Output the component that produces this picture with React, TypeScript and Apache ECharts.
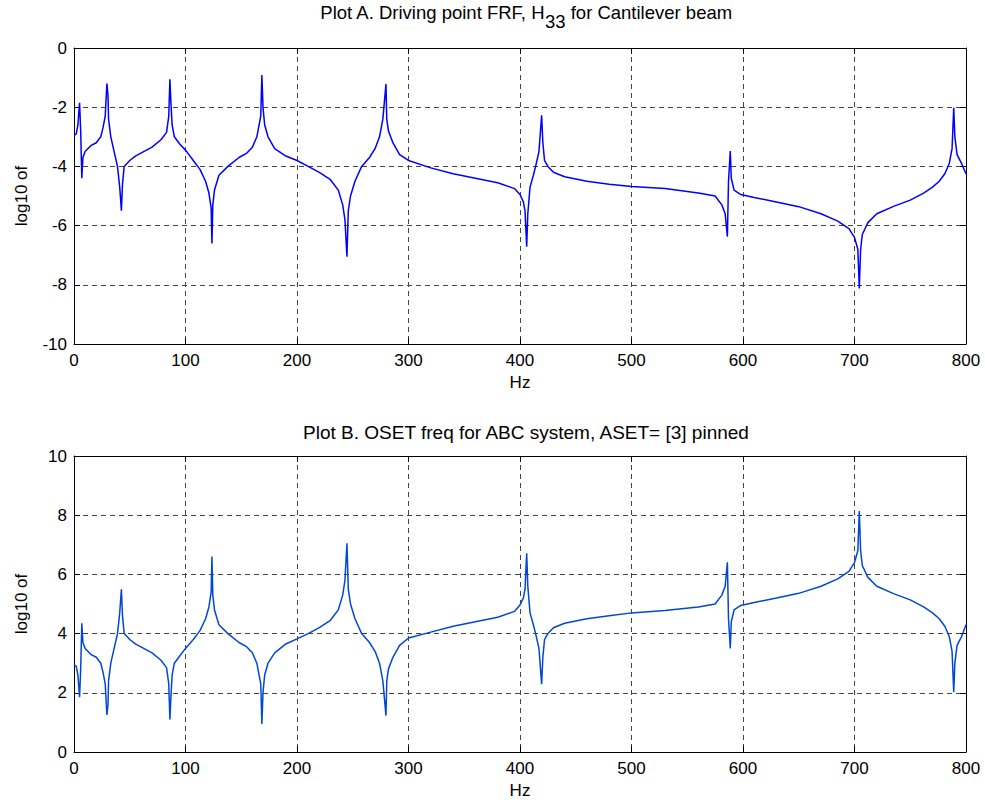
import React, { useEffect, useRef } from "react";
import * as echarts from "echarts";

// Frequency samples (Hz)
const freqHz = [
  0, 2, 3.5, 5, 6, 7, 8, 10, 15, 20, 24, 26, 28, 29.5, 30.5, 31, 33, 36, 39, 41, 42.5, 43.5, 45, 50, 55, 60, 70, 78, 83, 85, 86, 87, 88, 90, 95, 100,
  107, 113, 118, 121, 123, 123.7, 124.5, 126, 130, 138, 148, 155, 160, 164, 166, 167.5, 168.5, 169.5, 171, 174, 180, 190, 200,
  210, 220, 230, 237, 241, 243, 244.8, 246, 248, 252, 258, 265, 270, 274, 277, 279.8, 280.5, 282, 286, 292, 300,
  320, 340, 360, 380, 395, 400, 403, 404.5, 406, 407, 409, 412, 414, 417, 419.4, 420.5, 422, 425, 430, 440, 460, 480, 500,
  530, 560, 575, 581, 584, 586, 587, 588.6, 589.5, 592, 598, 610, 630, 650, 670, 685, 695, 700, 703, 704.3, 705.5, 707, 712, 720,
  735, 750, 762, 770, 776, 781, 785, 787.5, 789, 790, 792, 796, 800,
];

// Plot A: log10 of driving point FRF H33
const logFrfA = [
  -2.95, -2.9, -2.6, -1.85, -2.8, -4.4, -3.7, -3.5, -3.3, -3.2, -3.0, -2.7, -2.3, -1.2, -1.6, -2.4, -3.0, -3.5, -4.0, -4.7, -5.5, -4.6, -4.0, -3.8, -3.65, -3.55, -3.35, -3.1, -2.85, -2.3, -1.06, -1.9, -2.6, -3.0, -3.25, -3.45,
  -3.8, -4.1, -4.5, -4.9, -5.4, -6.6, -5.3, -4.8, -4.3, -4.0, -3.7, -3.55, -3.35, -3.0, -2.6, -2.3, -0.91, -2.0, -2.6, -3.0, -3.4, -3.65, -3.8,
  -4.0, -4.2, -4.45, -4.8, -5.3, -5.8, -7.05, -5.5, -5.0, -4.5, -4.0, -3.7, -3.4, -3.0, -2.4, -1.22, -2.4, -2.8, -3.2, -3.6, -3.8,
  -4.05, -4.25, -4.4, -4.55, -4.75, -4.95, -5.2, -5.5, -6.71, -5.6, -4.7, -4.3, -4.0, -3.5, -2.27, -3.2, -3.8, -4.0, -4.2, -4.35, -4.5, -4.6, -4.68,
  -4.75, -4.9, -5.0, -5.3, -5.6, -6.37, -4.5, -3.48, -4.4, -4.8, -4.95, -5.05, -5.2, -5.36, -5.6, -5.85, -6.1, -6.4, -6.8, -8.12, -6.8, -6.3, -5.9, -5.6,
  -5.35, -5.14, -4.9, -4.7, -4.5, -4.25, -3.9, -3.4, -2.02, -3.0, -3.6, -3.9, -4.25,
];

// Plot B: log10 of OSET freq, ASET=[3] pinned
const logOsetB = [
  2.94, 2.9, 2.6, 1.85, 2.8, 4.35, 3.7, 3.5, 3.3, 3.2, 3.0, 2.7, 2.3, 1.25, 1.6, 2.4, 3.0, 3.5, 4.0, 4.7, 5.5, 4.6, 4.0, 3.8, 3.65, 3.55, 3.35, 3.1, 2.85, 2.3, 1.1, 1.9, 2.6, 3.0, 3.25, 3.5,
  3.8, 4.1, 4.5, 4.9, 5.4, 6.6, 5.3, 4.8, 4.3, 4.0, 3.7, 3.55, 3.35, 3.0, 2.6, 2.3, 0.95, 2.0, 2.6, 3.0, 3.35, 3.65, 3.82,
  4.0, 4.2, 4.45, 4.8, 5.3, 5.8, 7.05, 5.5, 5.0, 4.5, 4.0, 3.7, 3.4, 3.0, 2.4, 1.23, 2.4, 2.8, 3.2, 3.6, 3.85,
  4.05, 4.25, 4.4, 4.55, 4.75, 4.97, 5.2, 5.5, 6.71, 5.6, 4.7, 4.3, 4.0, 3.5, 2.29, 3.2, 3.8, 4.0, 4.2, 4.35, 4.5, 4.6, 4.7,
  4.78, 4.9, 5.0, 5.3, 5.6, 6.41, 4.5, 3.5, 4.4, 4.8, 4.95, 5.05, 5.2, 5.36, 5.6, 5.85, 6.1, 6.4, 6.8, 8.14, 6.8, 6.3, 5.9, 5.6,
  5.35, 5.14, 4.9, 4.7, 4.5, 4.25, 3.9, 3.4, 2.02, 3.0, 3.6, 3.9, 4.3,
];

const xRange = { min: 0, max: 800, interval: 100 };
const yRangeA = { min: -10, max: 0, interval: 2 };
const yRangeB = { min: 0, max: 10, interval: 2 };

const FONT = "'Liberation Sans', Arial, sans-serif";

export default function App() {
  const ref = useRef<HTMLDivElement>(null);

  useEffect(() => {
    if (!ref.current) return;
    const chart = echarts.init(ref.current, null, { renderer: "svg" });

    const gridLine = { show: true, lineStyle: { color: "#444", type: [5, 4], width: 1 } };
    const axLine = { show: true, onZero: false, lineStyle: { color: "#000", width: 1 } };
    const tick = { show: true, inside: true, length: 6, lineStyle: { color: "#000" } };
    const lbl = { fontFamily: FONT, fontSize: 17, color: "#000" };

    const mainX = (gi: number) => ({
      type: "value", gridIndex: gi, position: "bottom", ...xRange,
      axisLine: axLine, axisTick: tick, splitLine: gridLine,
      axisLabel: { ...lbl, margin: 8 },
      name: "Hz", nameLocation: "middle", nameGap: 30,
      nameTextStyle: { fontFamily: FONT, fontSize: 17, color: "#000" },
    });
    const topX = (gi: number) => ({
      type: "value", gridIndex: gi, position: "top", ...xRange,
      axisLine: axLine, axisTick: tick, splitLine: { show: false }, axisLabel: { show: false },
    });
    const mainY = (gi: number, r: any) => ({
      type: "value", gridIndex: gi, position: "left", ...r,
      axisLine: axLine, axisTick: tick, splitLine: gridLine,
      axisLabel: { ...lbl, margin: 7 },
      name: "log10 of", nameLocation: "middle", nameGap: 44, nameRotate: 90,
      nameTextStyle: { fontFamily: FONT, fontSize: 17, color: "#000" },
    });
    const rightY = (gi: number, r: any) => ({
      type: "value", gridIndex: gi, position: "right", ...r,
      axisLine: axLine, axisTick: tick, splitLine: { show: false }, axisLabel: { show: false },
    });

    chart.setOption({
      animation: false,
      backgroundColor: "#fff",
      title: [
        {
          text: "{a|Plot A. Driving point FRF, H}{s|33}{a| for Cantilever beam}",
          left: 521, top: 1, textAlign: "center",
          textStyle: {
            fontWeight: "normal",
            rich: {
              a: { fontFamily: FONT, fontSize: 18.5, fontWeight: "normal", color: "#000", lineHeight: 21, padding: [0, 0, 9, 0] },
              s: { fontFamily: FONT, fontSize: 18.5, fontWeight: "normal", color: "#000", lineHeight: 21, padding: [9, 0, 0, 0] },
            },
          },
        },
        {
          text: "Plot B. OSET freq for ABC system, ASET= [3] pinned",
          left: 521, top: 418, textAlign: "center",
          textStyle: { fontFamily: FONT, fontSize: 19, color: "#000", fontWeight: "normal" },
        },
      ],
      grid: [
        { left: 74, top: 48, width: 892, height: 296 },
        { left: 74, top: 456, width: 892, height: 296 },
      ],
      xAxis: [mainX(0), topX(0), mainX(1), topX(1)],
      yAxis: [mainY(0, yRangeA), rightY(0, yRangeA), mainY(1, yRangeB), rightY(1, yRangeB)],
      series: [
        {
          type: "line", xAxisIndex: 0, yAxisIndex: 0, showSymbol: false,
          data: freqHz.map((f, i) => [f, logFrfA[i]]),
          lineStyle: { color: "#0000ff", width: 1.5 },
        },
        {
          type: "line", xAxisIndex: 2, yAxisIndex: 2, showSymbol: false,
          data: freqHz.map((f, i) => [f, logOsetB[i]]),
          lineStyle: { color: "#0047d6", width: 1.5 },
        },
      ],
    });
    return () => chart.dispose();
  }, []);

  return (
    <div
      ref={ref}
      style={{ position: "absolute", left: 0, top: 0, width: 985, height: 806, background: "#fff" }}
    />
  );
}
